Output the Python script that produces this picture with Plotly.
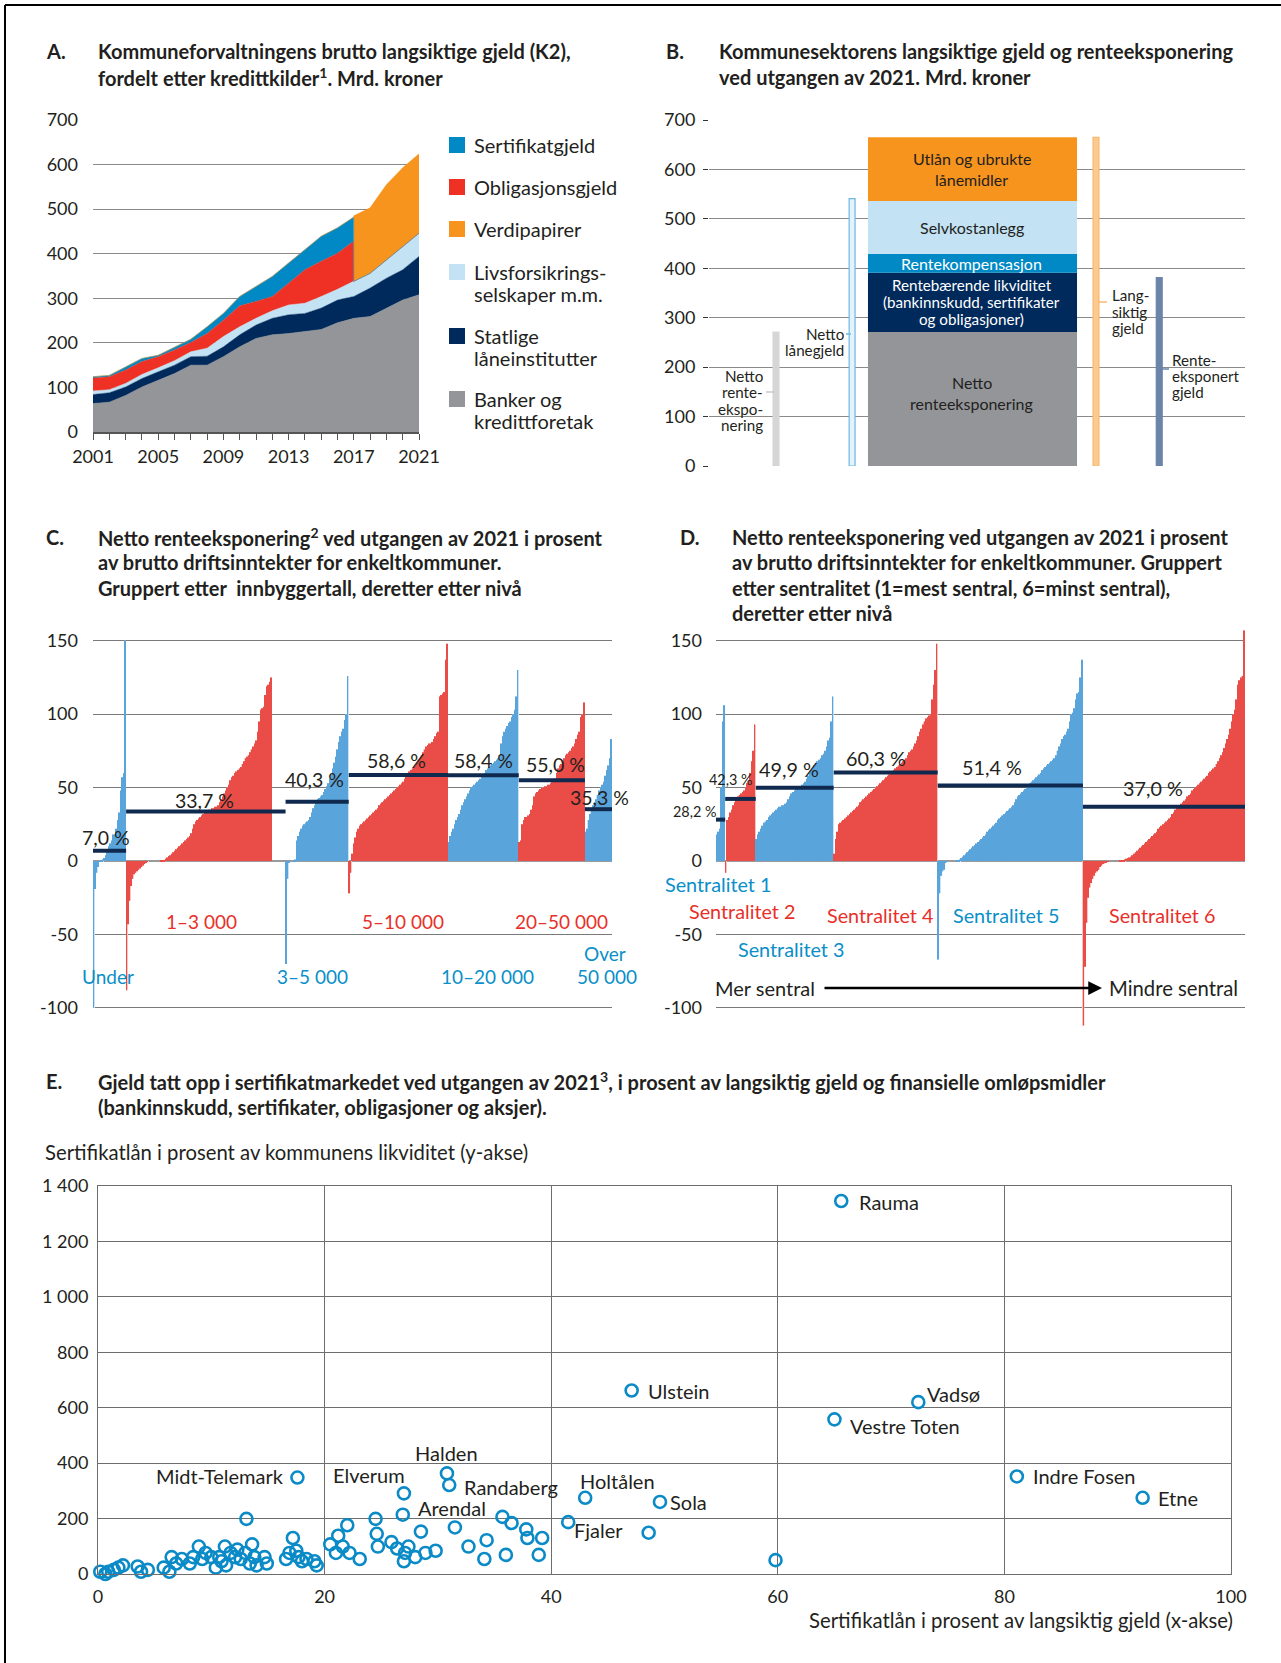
import plotly.graph_objects as go
import numpy as np

W, H = 1281, 1663
FONT = "Lato"
TXT = "#231f20"


def fx(x):
    return x / W


def fy(y):
    return 1 - y / H


# ---------------- Panel A data (Mrd. kroner) ----------------
a_years = [2001, 2002, 2003, 2004, 2005, 2006, 2007, 2008, 2009, 2010, 2011,
           2012, 2013, 2014, 2015, 2016, 2016.99, 2017, 2018, 2019, 2020, 2021]
a_banker = [64, 67, 82, 101, 116, 131, 150, 150, 169, 191, 210,
            218, 221, 225, 230, 245, 255, 255, 259, 278, 296, 308]
a_statlige = [20, 21, 19, 19, 19, 19, 19, 20, 22, 27, 30,
              37, 42, 41, 48, 51, 49, 49, 64, 67, 68, 86]
a_livs = [8, 7, 8, 9, 9, 10, 11, 18, 23, 18, 15,
          17, 22, 23, 26, 24, 34, 34, 33, 41, 52, 52]
a_oblig = [29, 29, 30, 29, 25, 24, 21, 33, 37, 47, 38,
           32, 49, 75, 79, 81, 90, 0, 0, 0, 0, 0]
a_sert = [3, 3, 7, 7, 3, 6, 7, 15, 15, 21, 33,
          45, 45, 45, 56, 57, 54, 0, 0, 0, 0, 0]
a_verdi = [0, 0, 0, 0, 0, 0, 0, 0, 0, 0, 0,
           0, 0, 0, 0, 0, 0, 147, 147, 169, 177, 178]
a_tick_years = [2001, 2005, 2009, 2013, 2017, 2021]

a_legend_labels = [["Sertifikatgjeld"], ["Obligasjonsgjeld"], ["Verdipapirer"],
                   ["Livsforsikrings-", "selskaper m.m."], ["Statlige", "låneinstitutter"],
                   ["Banker og", "kredittforetak"]]

C_SERT, C_OBL, C_VERD, C_LIVS, C_STAT, C_BANK = "#0089c4", "#ee3124", "#f7941d", "#c3e2f4", "#002a5c", "#939598"

# ---------------- Panel B data ----------------
b_segments = ["Netto renteeksponering", "Rentebærende likviditet", "Rentekompensasjon",
              "Selvkostanlegg", "Utlån og ubrukte lånemidler"]
b_values = [271, 120, 38, 107, 129]
b_side_names = ["Netto renteeksponering", "Netto lånegjeld", "Langsiktig gjeld", "Renteeksponert gjeld"]
b_side_values = [271, 541, 665, 381]

# ---------------- Panel C data (% av brutto driftsinntekter) ----------------
c_group_names = ["Under 1 000", "1–3 000", "3–5 000", "5–10 000", "10–20 000", "20–50 000", "Over 50 000"]
c_under = [-100, -19, -8, -4, 0, 0.5, 1, 2, 4, 8, 10, 12, 14, 18, 18, 22, 28, 33, 48, 57, 60, 150]
c_1_3 = [-88, -43, -27, -17, -12, -9, -8, -7, -6, -5, -4, -3, -2, -1, -0.5, 0, 0, 0, 0, 0, 0, 0, 0,
         0.3, 0.5, 0.8, 1.5, 2.5, 3.5, 4, 5, 6, 7, 8, 9, 10, 11, 12, 13, 14, 15, 16, 17, 19, 22, 25,
         27, 28, 29, 30, 31, 32, 33, 34, 34, 35, 35, 36, 36, 37, 37, 38, 40, 42, 44, 46, 48, 50, 52,
         55, 57, 58, 60, 61, 62, 63, 64, 66, 68, 70, 71, 72, 74, 76, 78, 80, 82, 88, 95, 103, 104,
         105, 113, 119, 120, 122, 125]
c_3_5 = [-70, -12, -1, 0, 0, 0.5, 1, 14, 17, 20, 22, 24, 25, 26, 27, 28, 30, 33, 36, 38, 40, 42, 43,
         44, 45, 47, 49, 51, 53, 56, 59, 63, 67, 71, 76, 81, 85, 88, 90, 96, 100, 126]
c_5_10 = [-22, -8, 5, 12, 16, 20, 22, 24, 25, 26, 27, 28, 29, 30, 31, 32, 33, 34, 35, 36, 38, 39, 40,
          41, 42, 43, 44, 45, 46, 47, 48, 49, 50, 51, 52, 53, 54, 56, 58, 60, 61, 62, 63, 64, 65, 67,
          69, 70, 72, 74, 76, 78, 79, 80, 80, 81, 83, 85, 87, 88, 112, 113, 114, 115, 137, 148]
c_10_20 = [13, 17, 20, 22, 25, 28, 30, 32, 35, 38, 40, 42, 44, 46, 48, 50, 51, 52, 53, 54, 55, 56, 57,
           58, 60, 62, 63, 64, 65, 66, 67, 68, 69, 70, 72, 80, 85, 88, 90, 92, 94, 95, 98, 100, 103,
           112, 130]
c_20_50 = [13, 14, 25, 28, 30, 30, 31, 32, 35, 38, 44, 46, 47, 48, 49, 50, 50, 51, 51, 52, 52, 53, 54,
           55, 56, 60, 63, 65, 66, 68, 70, 72, 73, 74, 75, 77, 78, 80, 83, 86, 88, 98, 100, 108]
c_over = [20, 22, 28, 32, 35, 38, 40, 42, 45, 48, 50, 52, 54, 58, 62, 65, 70, 83]
c_groups = [c_under, c_1_3, c_3_5, c_5_10, c_10_20, c_20_50, c_over]
c_avg = [7.0, 33.7, 40.3, 58.6, 58.4, 55.0, 35.3]
c_avg_labels = ["7,0 %", "33,7 %", "40,3 %", "58,6 %", "58,4 %", "55,0 %", "35,3 %"]

# ---------------- Panel D data ----------------
d_group_names = ["Sentralitet 1", "Sentralitet 2", "Sentralitet 3", "Sentralitet 4", "Sentralitet 5", "Sentralitet 6"]
d_s1 = [18, 20, 22, 50, 95, 106]
d_s2 = [-8, 28, 30, 33, 35, 38, 40, 42, 44, 45, 46, 47, 48, 50, 53, 55, 60, 68, 75, 93]
d_s3 = [15, 18, 20, 22, 24, 26, 27, 28, 30, 31, 32, 33, 34, 35, 36, 37, 37, 38, 38, 39, 40, 42, 44,
        46, 47, 48, 49, 50, 50, 51, 52, 53, 54, 56, 58, 60, 62, 63, 65, 67, 68, 69, 70, 72, 73, 75,
        78, 82, 84, 95, 112]
d_s4 = [5, 15, 20, 25, 26, 27, 28, 29, 30, 31, 32, 33, 34, 35, 36, 37, 38, 40, 41, 42, 43, 44, 45,
        46, 47, 48, 49, 50, 51, 52, 53, 54, 55, 56, 57, 58, 59, 60, 61, 62, 63, 64, 65, 66, 67, 68,
        69, 70, 72, 74, 75, 76, 78, 80, 82, 85, 88, 90, 93, 95, 97, 98, 99, 100, 110, 120, 130, 148]
d_s5 = [-67, -22, -10, -7, -6, -1, -0.5, 0, 0, 0, 0, 0, 0.3, 0.5, 1, 2, 3, 4, 5, 6, 7, 8, 9, 10, 11,
        12, 13, 14, 15, 16, 17, 18, 20, 21, 22, 23, 24, 25, 26, 28, 29, 30, 31, 32, 33, 34, 35, 36,
        37, 38, 40, 42, 44, 45, 46, 47, 48, 49, 50, 52, 53, 54, 55, 56, 57, 58, 59, 60, 62, 63, 64,
        65, 66, 67, 68, 69, 70, 72, 75, 78, 80, 83, 85, 86, 88, 90, 95, 100, 101, 104, 110, 114,
        115, 125, 137]
d_s6 = [-112, -72, -42, -25, -18, -15, -12, -10, -8, -7, -6, -4, -3, -2, -1.5, -1, -0.5, 0, 0, 0, 0,
        0, 0, 0, 0.3, 0.5, 0.8, 1, 1.5, 2, 2.5, 3, 4, 5, 6, 7, 8, 9, 10, 11, 12, 13, 14, 15, 16, 17,
        18, 19, 20, 22, 23, 24, 25, 26, 27, 28, 29, 30, 32, 33, 35, 36, 37, 38, 39, 40, 41, 42, 44,
        45, 46, 48, 49, 50, 51, 52, 53, 54, 55, 56, 57, 58, 60, 61, 62, 63, 64, 66, 68, 70, 72, 74,
        77, 80, 83, 86, 90, 95, 100, 103, 110, 120, 123, 125, 126, 157]
d_groups = [d_s1, d_s2, d_s3, d_s4, d_s5, d_s6]
d_avg = [28.2, 42.3, 49.9, 60.3, 51.4, 37.0]
d_avg_labels = ["28,2 %", "42,3 %", "49,9 %", "60,3 %", "51,4 %", "37,0 %"]

# ---------------- Panel E data ----------------
e_names = ["Rauma", "Ulstein", "Vadsø", "Vestre Toten", "Indre Fosen", "Etne", "Midt-Telemark",
           "Elverum", "Halden", "Randaberg", "Arendal", "Holtålen", "Sola", "Fjaler"]
e_named_x = [65.6, 47.1, 72.4, 65.0, 81.1, 92.2, 17.6, 27.0, 30.8, 31.0, 26.9, 43.0, 49.6, 48.6]
e_named_y = [1346, 662, 620, 558, 352, 275, 348, 291, 363, 321, 214, 275, 260, 149]
e_other_x = [0.2, 0.65, 0.9, 1.4, 1.8, 2.2, 3.5, 3.8, 4.4, 5.8, 6.3, 6.5, 6.9, 7.4, 8.1, 8.4, 8.9,
             9.2, 9.5, 10.0, 10.4, 10.7, 10.9, 11.2, 11.3, 11.7, 12.1, 12.3, 12.6, 13.0, 13.1, 13.4,
             13.6, 13.8, 14.0, 14.7, 14.9, 16.6, 16.9, 17.2, 17.5, 17.7, 18.0, 18.4, 19.1, 19.3,
             20.5, 21.0, 21.2, 21.6, 22.0, 22.2, 23.1, 24.5, 24.6, 24.7, 25.9, 26.4, 27.0, 27.1,
             27.4, 28.0, 28.5, 28.9, 29.8, 31.5, 32.7, 34.1, 34.3, 35.7, 36.0, 36.5, 37.8, 37.9,
             38.9, 39.2, 41.5, 59.8]
e_other_y = [8, 0, 8, 15, 23, 31, 27, 8, 15, 23, 8, 61, 38, 54, 38, 61, 99,
             54, 76, 61, 23, 61, 46, 99, 31, 76, 61, 88, 54, 76, 199, 38,
             107, 61, 31, 61, 38, 54, 76, 130, 84, 61, 46, 54, 46, 31,
             107, 76, 138, 99, 176, 76, 54, 199, 145, 99, 115, 92, 46, 76,
             99, 61, 153, 76, 84, 168, 99, 54, 122, 206, 69, 184, 161, 130,
             69, 130, 187, 50]

fig = go.Figure()

# ---------------- Panel A traces ----------------
for name, vals, col in [("Banker og kredittforetak", a_banker, C_BANK),
                        ("Statlige låneinstitutter", a_statlige, C_STAT),
                        ("Livsforsikringsselskaper m.m.", a_livs, C_LIVS),
                        ("Obligasjonsgjeld", a_oblig, C_OBL),
                        ("Sertifikatgjeld", a_sert, C_SERT),
                        ("Verdipapirer", a_verdi, C_VERD)]:
    fig.add_trace(go.Scatter(x=a_years, y=vals, name=name, stackgroup="a", mode="lines",
                             line=dict(width=0.5, color=col), fillcolor=col,
                             xaxis="x", yaxis="y", showlegend=False, hoverinfo="skip"))

# ---------------- Panel B traces ----------------
B_MAIN_X, B_MAIN_W = 4.916, 3.90
b_colors = [C_BANK, C_STAT, C_SERT, C_LIVS, C_VERD]
b_base = np.concatenate([[0], np.cumsum(b_values)[:-1]])
for seg, v, base, col in zip(b_segments, b_values, b_base, b_colors):
    fig.add_trace(go.Bar(x=[B_MAIN_X], y=[v], base=[base], width=[B_MAIN_W], name=seg,
                         marker=dict(color=col, line=dict(width=0)),
                         xaxis="x2", yaxis="y2", showlegend=False, hoverinfo="skip"))
b_side_pos = [1.25, 2.67, 7.22, 8.40]
b_side_fill = ["#d6d6d8", "#e4f2fb", "#fcc98f", "#6c84aa"]
b_side_edge = ["#d6d6d8", "#6cb8e2", "#f9b770", "#6c84aa"]
fig.add_trace(go.Bar(x=b_side_pos, y=b_side_values, width=0.11, name="side",
                     marker=dict(color=b_side_fill, line=dict(color=b_side_edge, width=1.2)),
                     xaxis="x2", yaxis="y2", showlegend=False, hoverinfo="skip"))

RED_L, RED_D = "#f9c3c0", "#ea4d47"
BLUE_L, BLUE_D = "#c8e1f5", "#5aa4dc"
NAVY = "#0f2a4e"


def bar_panel(groups, light, dark, gaps, xa, ya):
    xs, ys, cl, cd, spans = [], [], [], [], []
    pos = 0
    for gi, vals in enumerate(groups):
        start = pos
        for v in vals:
            xs.append(pos)
            ys.append(v)
            cl.append(light[gi])
            cd.append(dark[gi])
            pos += 1
        pos += gaps.get(gi, 0)
        spans.append((start - 0.5, pos - 0.5))
    fig.add_trace(go.Bar(x=xs, y=ys, width=0.95, marker=dict(color=cl, line=dict(width=0)),
                         xaxis=xa, yaxis=ya, showlegend=False, hoverinfo="skip"))
    fig.add_trace(go.Bar(x=xs, y=ys, width=0.36, offset=-0.45, marker=dict(color=cd, line=dict(width=0)),
                         xaxis=xa, yaxis=ya, showlegend=False, hoverinfo="skip"))
    return spans, pos


c_light = [BLUE_L, RED_L, BLUE_L, RED_L, BLUE_L, RED_L, BLUE_L]
c_dark = [BLUE_D, RED_D, BLUE_D, RED_D, BLUE_D, RED_D, BLUE_D]
c_spans, c_n = bar_panel(c_groups, c_light, c_dark, {1: 9}, "x3", "y3")
for (s, e), a in zip(c_spans, c_avg):
    fig.add_trace(go.Scatter(x=[s, e], y=[a, a], mode="lines", line=dict(color=NAVY, width=4),
                             xaxis="x3", yaxis="y3", showlegend=False, hoverinfo="skip"))

d_spans, d_n = bar_panel(d_groups, c_light[:6], c_dark[:6], {}, "x4", "y4")
for (s, e), a in zip(d_spans, d_avg):
    fig.add_trace(go.Scatter(x=[s, e], y=[a, a], mode="lines", line=dict(color=NAVY, width=4),
                             xaxis="x4", yaxis="y4", showlegend=False, hoverinfo="skip"))

# ---------------- Panel E traces ----------------
E_BLUE = "#0a8ac6"
fig.add_trace(go.Scatter(x=e_other_x + e_named_x, y=e_other_y + e_named_y, mode="markers",
                         marker=dict(symbol="circle-open", size=12, color=E_BLUE, line=dict(width=2.6, color=E_BLUE)),
                         xaxis="x5", yaxis="y5", showlegend=False, hoverinfo="skip", cliponaxis=False))

# ---------------- Annotations ----------------
ann = []


def text(x, y, s, size=18, color=TXT, xanchor="left", bold=False, yanchor="middle"):
    ann.append(dict(x=fx(x), y=fy(y), xref="paper", yref="paper", text=("<b>%s</b>" % s) if bold else s,
                    showarrow=False, xanchor=xanchor, yanchor=yanchor,
                    font=dict(family=FONT, size=size, color=color)))


TS = 20
# titles
text(44, 51, "A.", TS, bold=True)
text(96, 51, "Kommuneforvaltningens brutto langsiktige gjeld (K2),", TS, bold=True)
text(96, 77, "fordelt etter kredittkilder<sup>1</sup>. Mrd. kroner", TS, bold=True)
text(664, 51, "B.", TS, bold=True)
text(717, 51, "Kommunesektorens langsiktige gjeld og renteeksponering", TS, bold=True)
text(717, 77, "ved utgangen av 2021. Mrd. kroner", TS, bold=True)
text(44, 537, "C.", TS, bold=True)
text(96, 537, "Netto renteeksponering<sup>2</sup> ved utgangen av 2021 i prosent", TS, bold=True)
text(96, 562, "av brutto driftsinntekter for enkeltkommuner.", TS, bold=True)
text(96, 588, "Gruppert etter  innbyggertall, deretter etter nivå", TS, bold=True)
text(678, 537, "D.", TS, bold=True)
text(730, 537, "Netto renteeksponering ved utgangen av 2021 i prosent", TS, bold=True)
text(730, 562, "av brutto driftsinntekter for enkeltkommuner. Gruppert", TS, bold=True)
text(730, 588, "etter sentralitet (1=mest sentral, 6=minst sentral),", TS, bold=True)
text(730, 613, "deretter etter nivå", TS, bold=True)
text(44, 1081, "E.", TS, bold=True)
text(96, 1081, "Gjeld tatt opp i sertifikatmarkedet ved utgangen av 2021<sup>3</sup>, i prosent av langsiktig gjeld og finansielle omløpsmidler", TS, bold=True)
text(96, 1107, "(bankinnskudd, sertifikater, obligasjoner og aksjer).", TS, bold=True)

# Panel A legend
shapes = []
leg_cols = [C_SERT, C_OBL, C_VERD, C_LIVS, C_STAT, C_BANK]
leg_y = [145, 187, 229, 272, 336, 399]
for lines, col, y0 in zip(a_legend_labels, leg_cols, leg_y):
    shapes.append(dict(type="rect", xref="paper", yref="paper", x0=fx(449), x1=fx(465),
                       y0=fy(y0 + 8), y1=fy(y0 - 8), fillcolor=col, line=dict(width=0)))
    for k, ln in enumerate(lines):
        text(472, y0 + 21.8 * k, ln, 20)

# Panel B labels
BX = 972
BS = 16
text(BX, 159, "Utlån og ubrukte", BS, xanchor="center")
text(BX, 180, "lånemidler", BS, xanchor="center")
text(BX, 227, "Selvkostanlegg", BS, xanchor="center")
text(BX, 264, "Rentekompensasjon", BS, color="white", xanchor="center")
text(BX, 285, "Rentebærende likviditet", 15.2, color="white", xanchor="center")
text(BX, 302, "(bankinnskudd, sertifikater", 15.2, color="white", xanchor="center")
text(BX, 319, "og obligasjoner)", 15.2, color="white", xanchor="center")
text(BX, 383, "Netto", BS, xanchor="center")
text(BX, 403, "renteeksponering", BS, xanchor="center")
SS = 15.2
for k, ln in enumerate(["Netto", "rente-", "ekspo-", "nering"]):
    text(765, 376 + 16.4 * k, ln, SS, xanchor="right")
for k, ln in enumerate(["Netto", "lånegjeld"]):
    text(846, 334 + 16.5 * k, ln, SS, xanchor="right")
for k, ln in enumerate(["Lang-", "siktig", "gjeld"]):
    text(1110, 295 + 16.5 * k, ln, SS)
for k, ln in enumerate(["Rente-", "eksponert", "gjeld"]):
    text(1170, 360 + 16.2 * k, ln, SS)
for x0, x1, y, col in [(766, 774, 392, "#c8c8ca"), (846, 851, 334, "#6cb8e2"),
                       (1099, 1107, 302, "#f9b770"), (1162, 1169, 369, "#6c84aa")]:
    shapes.append(dict(type="line", xref="paper", yref="paper", x0=fx(x0), x1=fx(x1),
                       y0=fy(y), y1=fy(y), line=dict(color=col, width=1.5)))

# Panel C labels
for lab, x, y in zip(c_avg_labels, [106, 204, 314, 396, 484, 555, 599], [837, 800, 779, 760, 760, 764, 797]):
    text(x, y, lab, 19.5, xanchor="center")
CRED, CBLUE = "#e8302a", "#0a8fc9"
GS = 19
text(201, 922, "1–3 000", GS, CRED, "center")
text(403, 922, "5–10 000", GS, CRED, "center")
text(561, 922, "20–50 000", GS, CRED, "center")
text(108, 976, "Under", GS, CBLUE, "center")
text(312, 976, "3–5 000", GS, CBLUE, "center")
text(487, 976, "10–20 000", GS, CBLUE, "center")
text(605, 953, "Over", GS, CBLUE, "center")
text(607, 976, "50 000", GS, CBLUE, "center")

# Panel D labels
text(695, 812, d_avg_labels[0], 14.4, xanchor="center")
text(731, 780, d_avg_labels[1], 14.4, xanchor="center")
for lab, x, y in zip(d_avg_labels[2:], [789, 876, 992, 1153], [769, 758, 767, 788]):
    text(x, y, lab, 19.8, xanchor="center")
DS = 19.8
text(718, 884, "Sentralitet 1", DS, CBLUE, "center")
text(742, 911, "Sentralitet 2", DS, CRED, "center")
text(791, 949, "Sentralitet 3", DS, CBLUE, "center")
text(880, 915, "Sentralitet 4", DS, CRED, "center")
text(1006, 915, "Sentralitet 5", DS, CBLUE, "center")
text(1162, 915, "Sentralitet 6", DS, CRED, "center")
text(765, 988, "Mer sentral", 20, xanchor="center")
text(1173, 988, "Mindre sentral", 20.3, xanchor="center")
ann.append(dict(x=fx(1102), y=fy(988), xref="paper", yref="paper", ax=-(1102 - 823), ay=0,
                axref="pixel", ayref="pixel", text="", showarrow=True, arrowhead=2,
                arrowsize=1.1, arrowwidth=2.5, arrowcolor="black"))

# Panel E labels
text(43, 1152, "Sertifikatlån i prosent av kommunens likviditet (y-akse)", 20.3)
text(1235, 1620, "Sertifikatlån i prosent av langsiktig gjeld (x-akse)", 20.3, xanchor="right")
e_label_style = {
    "Rauma": ("left", 15, -1), "Ulstein": ("left", 14, 0), "Vadsø": ("left", 6, 8),
    "Vestre Toten": ("left", 13, -6), "Indre Fosen": ("left", 13, 0), "Etne": ("left", 13, 0),
    "Midt-Telemark": ("right", -11, 1), "Elverum": ("right", 3, 17), "Halden": ("center", 0, 19),
    "Randaberg": ("left", 12, -2), "Arendal": ("left", 12, 6), "Holtålen": ("left", -7, 16),
    "Sola": ("left", 8, 0), "Fjaler": ("right", -22, 3),
}
for nm, x, y in zip(e_names, e_named_x, e_named_y):
    xa, dx, dy = e_label_style[nm]
    ann.append(dict(x=x, y=y, xref="x5", yref="y5", text=nm, showarrow=False, xanchor=xa,
                    yanchor="middle", xshift=dx * 1.06, yshift=dy * 1.06,
                    font=dict(family=FONT, size=20, color=TXT)))

# border
shapes.append(dict(type="line", xref="paper", yref="paper", x0=fx(5), x1=fx(5), y0=0, y1=fy(5),
                   line=dict(color="black", width=2)))
shapes.append(dict(type="line", xref="paper", yref="paper", x0=fx(5), x1=1, y0=fy(5), y1=fy(5),
                   line=dict(color="black", width=2)))

TF = dict(family=FONT, size=18, color=TXT)
GRID = "#8a8a8a"
layout = dict(
    width=W, height=H, autosize=False, margin=dict(l=0, r=0, t=0, b=0, pad=0, autoexpand=False),
    paper_bgcolor="white", plot_bgcolor="white",
    barmode="overlay", showlegend=False, font=dict(family=FONT, color=TXT),
    annotations=ann, shapes=shapes,
    xaxis=dict(domain=[fx(93), fx(419)], range=[2001, 2021], tickvals=a_tick_years, ticks="outside",
               ticklen=6, tickcolor="#555", minor=dict(ticks="outside", dtick=1, tick0=2001, ticklen=6, tickcolor="#555"),
               showline=True, linecolor="#555", linewidth=1.5, showgrid=False, zeroline=False,
               tickfont=TF, anchor="y", ticklabelstandoff=2, automargin=False),
    yaxis=dict(domain=[fy(432), fy(120)], range=[0, 700], tickvals=list(range(0, 701, 100)),
               showgrid=True, gridcolor=GRID, gridwidth=1, zeroline=False, showline=False,
               tickfont=TF, anchor="x", ticklabelstandoff=14, automargin=False),
    xaxis2=dict(domain=[fx(709), fx(1245)], range=[0, 10], visible=False, anchor="y2", automargin=False),
    yaxis2=dict(domain=[fy(466), fy(120)], range=[0, 700], tickvals=list(range(0, 701, 100)),
                showgrid=True, gridcolor=GRID, zeroline=False, ticks="outside", ticklen=5,
                tickcolor="#333", tickfont=TF, anchor="x2", ticklabelstandoff=4, automargin=False),
    xaxis3=dict(domain=[fx(93), fx(612)], range=[-0.5, c_n - 0.5], visible=False, anchor="y3", automargin=False),
    yaxis3=dict(domain=[fy(1030), fy(626)], range=[-115, 160], tickvals=[-100, -50, 0, 50, 100, 150],
                ticktext=["-100", "-50", "0", "50", "100", "150"], showgrid=True, gridcolor="#7a7a7a",
                zeroline=True, zerolinecolor="#9a9a9a", zerolinewidth=2, tickfont=TF, anchor="x3",
                ticklabelstandoff=14, automargin=False),
    xaxis4=dict(domain=[fx(716), fx(1245)], range=[-0.5, d_n - 0.5], visible=False, anchor="y4", automargin=False),
    yaxis4=dict(domain=[fy(1030), fy(626)], range=[-115, 160], tickvals=[-100, -50, 0, 50, 100, 150],
                ticktext=["-100", "-50", "0", "50", "100", "150"], showgrid=True, gridcolor="#7a7a7a",
                zeroline=True, zerolinecolor="#9a9a9a", zerolinewidth=2, tickfont=TF, anchor="x4",
                ticklabelstandoff=13, automargin=False),
    xaxis5=dict(domain=[fx(98), fx(1231)], range=[0, 100], tickvals=list(range(0, 101, 20)),
                showgrid=True, gridcolor="#6d6d6d", showline=True, mirror=True, linecolor="#6d6d6d",
                zeroline=False, tickfont=TF, anchor="y5", ticklabelstandoff=6, automargin=False),
    yaxis5=dict(domain=[fy(1574), fy(1186)], range=[0, 1400], tickvals=list(range(0, 1401, 200)),
                ticktext=["0", "200", "400", "600", "800", "1 000", "1 200", "1 400"],
                showgrid=True, gridcolor="#6d6d6d", showline=True, mirror=True, linecolor="#6d6d6d",
                zeroline=False, tickfont=TF, anchor="x5", ticklabelstandoff=5, automargin=False),
)
fig.update_layout(**layout)
fig.write_html("out.html", config={"responsive": False, "displayModeBar": False},
               post_script="document.body.style.margin='0px';")
